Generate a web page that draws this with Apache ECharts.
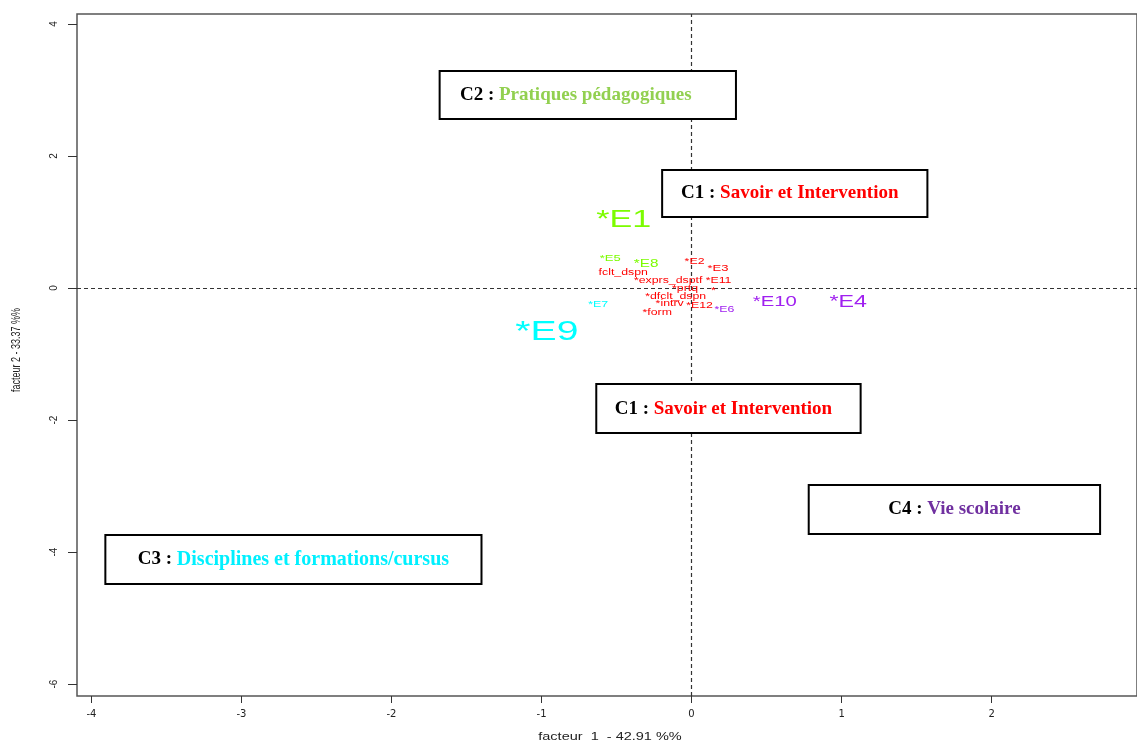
<!DOCTYPE html>
<html>
<head>
<meta charset="utf-8">
<script src="https://cdn.jsdelivr.net/npm/echarts@6/dist/echarts.min.js"></script>
<style>
html,body{margin:0;padding:0;background:#fff;}
#chart{width:1137px;height:742px;}
</style>
</head>
<body>
<div id="chart"></div>
<script>
// ---------- DATA ----------
const labels  = ['*E1','*E5','*E8','fclt_dspn','*E2','*E3','*exprs_dsptf','*E11','*prtq','*','*dfclt_dspn','*intrv','*E12','*form','*E6','*E7','*E9','*E10','*E4'];
const factor1 = [-0.452,-0.542,-0.303,-0.455,0.020,0.176,-0.156,0.180,-0.043,0.145,-0.106,-0.146,0.053,-0.229,0.219,-0.622,-0.964,0.555,1.044];
const factor2 = [1.030,0.455,0.364,0.240,0.394,0.300,0.106,0.106,-0.015,-0.045,-0.136,-0.242,-0.273,-0.380,-0.333,-0.258,-0.667,-0.210,-0.227];
const cluster = ['C2','C2','C2','C1','C1','C1','C1','C1','C1','C1','C1','C1','C1','C1','C4','C3','C3','C4','C4'];
const xTicks = [-4,-3,-2,-1,0,1,2];
const yTicks = [-6,-4,-2,0,2,4];
const xTitle = 'facteur  1  - 42.91 %%';
const yTitle = 'facteur 2 - 33.37 %%';

// Annotation boxes: cluster names
const boxNames  = ['C2 : ','C1 : ','C1 : ','C4 : ','C3 : '];
const boxThemes = ['Pratiques pédagogiques','Savoir et Intervention','Savoir et Intervention','Vie scolaire','Disciplines et formations/cursus'];
const boxCluster = ['C2','C1','C1','C4','C3'];

// ---------- STYLE / LAYOUT (not data) ----------
const labelSizes = [23.5,9,10.5,8.5,8.5,9,8.5,8.5,8.5,8.5,8.5,8.5,8.5,8.5,8.5,8.5,27,14,16];
const pointColors = {C1:'#FF0000', C2:'#7CFC00', C3:'#00FFFF', C4:'#A020F0'};
const themeColors = {C1:'#FF0000', C2:'#92D050', C3:'#00F0FF', C4:'#7030A0'};
// box extents in data units [x0, y0, x1, y1]
const boxRects = [
  [-1.679, 3.288, 0.296, 2.561],
  [-0.196, 1.788, 1.572, 1.076],
  [-0.635,-1.455, 1.127,-2.197],
  [ 0.781,-2.985, 2.723,-3.727],
  [-3.907,-3.742,-1.400,-4.485]
];
const boxTextShift = [-12,-5,-5,0,0];
const boxThemeSize = [19,19,19,19,20];

const chart = echarts.init(document.getElementById('chart'), null, {renderer:'canvas'});

const pts = factor1.map((x,i)=>[x, factor2[i]]);

const serif = '"Liberation Serif","Times New Roman",serif';

const boxData = boxRects.map((r,i)=>{
  const c = boxCluster[i];
  const rich = {
    k:{color:'#000', fontFamily:serif, fontWeight:'bold', fontSize:19},
    t:{color:themeColors[c], fontFamily:serif, fontWeight:'bold', fontSize:boxThemeSize[i]}
  };
  return [
    {
      xAxis:r[0], yAxis:r[1],
      itemStyle:{color:'#ffffff', borderColor:'#000', borderWidth:2, opacity:1},
      label:{
        show:true, position:'inside', offset:[boxTextShift[i],0],
        formatter:'{k|'+boxNames[i]+'}{t|'+boxThemes[i]+'}',
        rich:rich
      }
    },
    {xAxis:r[2], yAxis:r[3]}
  ];
});

const option = {
  backgroundColor:'#fff',
  animation:false,
  grid:{left:77, top:14, right:-2, bottom:46, show:true, borderColor:'#555', borderWidth:1.5, backgroundColor:'transparent'},
  xAxis:{
    type:'value', min:-4.096, max:2.969,
    axisLine:{show:false, onZero:false},
    splitLine:{show:false},
    axisTick:{show:true, length:7, lineStyle:{color:'#333', width:1}, customValues:xTicks},
    axisLabel:{color:'#222', fontSize:10, fontFamily:'"DejaVu Sans",sans-serif', margin:13, customValues:xTicks, formatter:v=>String(v)}
  },
  yAxis:{
    type:'value', min:-6.18, max:4.152,
    axisLine:{show:false, onZero:false},
    splitLine:{show:false},
    axisTick:{show:true, length:9, lineStyle:{color:'#333', width:1}, customValues:yTicks},
    axisLabel:{color:'#222', fontSize:10, fontFamily:'"Liberation Sans",Arial,sans-serif', rotate:90, margin:18, customValues:yTicks, formatter:v=>String(v)}
  },
  graphic:[
    {type:'text', x:610, y:737, scaleX:1.45, z:100,
     style:{text:xTitle, font:'10px "Liberation Sans",Arial,sans-serif', fill:'#222', textAlign:'center', textVerticalAlign:'middle', align:'center', verticalAlign:'middle'}},
    {type:'text', x:17, y:350, rotation:Math.PI/2, scaleY:1.4, z:100,
     style:{text:yTitle, font:'9px "Liberation Sans",Arial,sans-serif', fill:'#222', textAlign:'center', textVerticalAlign:'middle', align:'center', verticalAlign:'middle'}}
  ],
  series:[
    {
      type:'scatter', data:[], z:1, silent:true,
      markLine:{
        silent:true, symbol:'none', animation:false, z:1,
        lineStyle:{color:'#333', type:[4,3], width:1.2},
        label:{show:false},
        data:[{xAxis:0},{yAxis:0}]
      }
    },
    {
      type:'scatter', data:[], z:5, silent:true,
      markArea:{silent:true, animation:false, z:6, data:boxData}
    },
    {
      type:'custom', z:10, silent:true,
      data:pts,
      renderItem:(params, api)=>{
        const i = params.dataIndex;
        const p = api.coord([api.value(0), api.value(1)]);
        return {
          type:'text', x:p[0], y:p[1], scaleX:1.45,
          style:{
            text:labels[i], fill:pointColors[cluster[i]],
            font: labelSizes[i]+'px "Liberation Sans",Arial,sans-serif',
            align:'center', verticalAlign:'middle'
          }
        };
      }
    }
  ]
};
chart.setOption(option);
</script>
</body>
</html>
